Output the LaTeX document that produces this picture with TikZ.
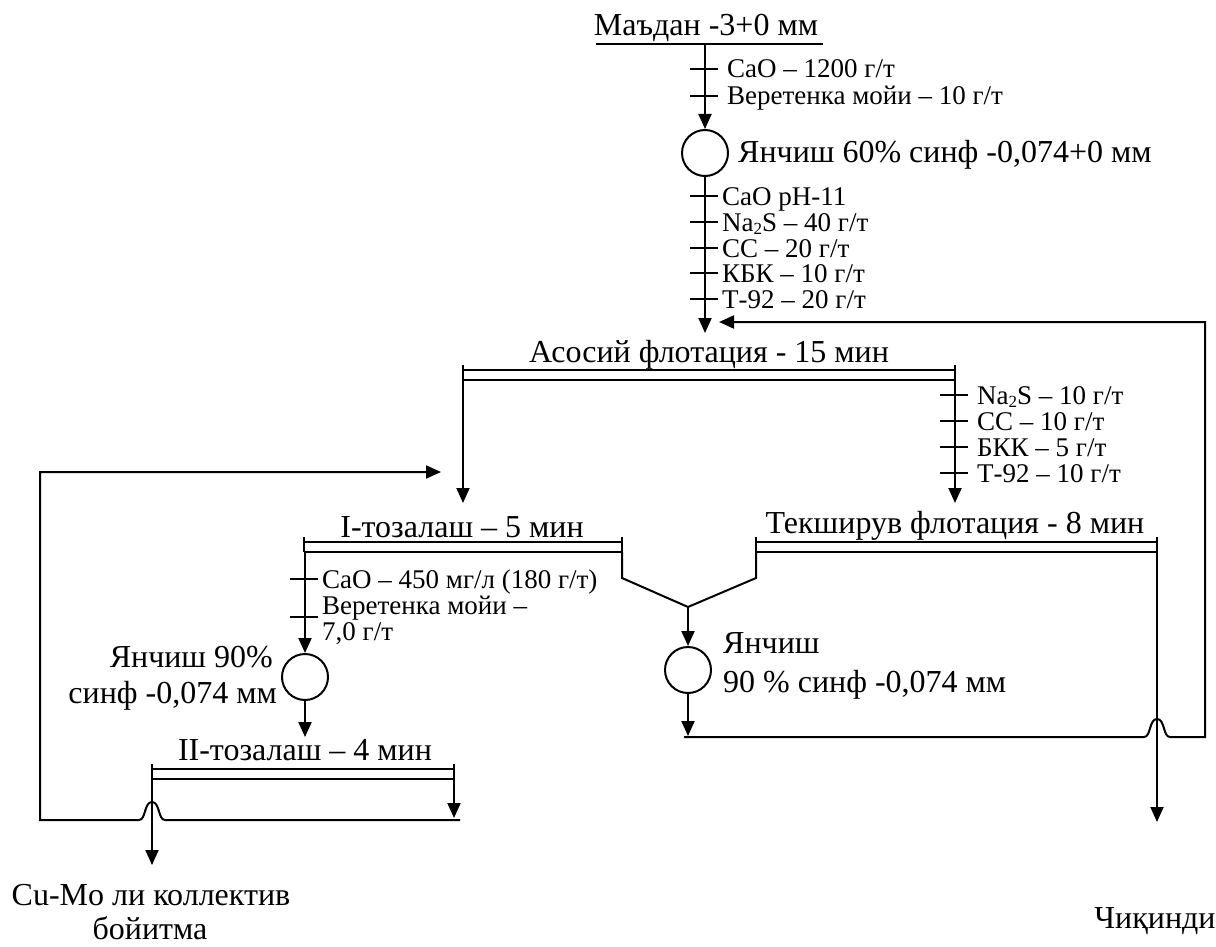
\documentclass[tikz,border=0pt]{standalone}
\usepackage{fontspec}
\setmainfont{Liberation Serif}
\usetikzlibrary{arrows.meta}
\newcommand\flbar[4]{% name, x1, x2, Y
  \coordinate (#1L) at (#2,#4+10);
  \coordinate (#1R) at (#3,#4+10);
  \draw[ln] (#2,#4) -- (#3,#4);
  \draw[ln] (#2,#4+10) -- (#3,#4+10);
  \draw[ln] (#2,#4-5) -- (#1L);
  \draw[ln] (#3,#4-5) -- (#1R);}
\newcommand\rtick[2]{\draw[ln] (#1-15,#2) -- (#1+13,#2);}
\newcommand\sbtwo{\raisebox{-0.28ex}{\fontsize{17}{17}\selectfont 2}}
\begin{document}
\begin{tikzpicture}[x=1pt,y=-1pt,
  ln/.style={line width=2pt},
  flow/.style={line width=2pt,-{Triangle[length=15pt,width=13pt]}},
  big/.style={inner sep=0pt,font=\fontsize{32}{36}\selectfont},
  small/.style={inner sep=0pt,text height=19pt,text depth=3pt,font=\fontsize{27}{30}\selectfont},
  mill/.style={draw,circle,line width=2pt,minimum size=46pt,inner sep=0pt}]
\useasboundingbox (0,0) rectangle (1216,947);

% ---- feed
\node[big,anchor=base] (ore) at (706,36) {Маъдан -3+0 мм};
\coordinate (oreL) at (596,44);
\coordinate (oreR) at (823,44);
\coordinate (oreO) at (705,44);
\draw[ln] (oreL) -- (oreR);
\node[mill] (m1) at (705,153) {};
\draw[flow] (oreO) -- (m1.north);
\rtick{705}{69}
\rtick{705}{96}
\node[small,anchor=base west] (ra1) at (727,78) {CaO – 1200 г/т};
\node[small,anchor=base west] (ra2) at (727,105) {Веретенка мойи – 10 г/т};
\node[big,anchor=base west] (m1t) at (738,163) {Янчиш 60\% синф -0,074+0 мм};

% ---- main flotation
\coordinate (mainIn) at (705,333);
\draw[flow] (m1.south) -- (mainIn);
\foreach \yy in {196,222,248,273,299} {\rtick{705}{\yy}}
\node[small,anchor=base west] (rb1) at (722,205) {CaO pH-11};
\node[small,anchor=base west] (rb2) at (722,231) {Na\sbtwo S – 40 г/т};
\node[small,anchor=base west] (rb3) at (722,257) {CC – 20 г/т};
\node[small,anchor=base west] (rb4) at (722,282) {КБК – 10 г/т};
\node[small,anchor=base west] (rb5) at (722,308) {Т-92 – 20 г/т};

\node[big,anchor=base] (mainT) at (709,362) {Асосий флотация - 15 мин};
\flbar{A}{463}{955}{370}

% ---- scavenger reagents
\coordinate (scavIn) at (955,503);
\draw[flow] (AR) -- (scavIn);
\foreach \yy in {395,421,447,473} {\rtick{955}{\yy}}
\node[small,anchor=base west] (rc1) at (977,404) {Na\sbtwo S – 10 г/т};
\node[small,anchor=base west] (rc2) at (977,430) {CC – 10 г/т};
\node[small,anchor=base west] (rc3) at (977,456) {БКК – 5 г/т};
\node[small,anchor=base west] (rc4) at (977,482) {Т-92 – 10 г/т};

% ---- first cleaning
\coordinate (cl1In) at (463,503);
\draw[flow] (AL) -- (cl1In);
\node[big,anchor=base] (cl1T) at (462,537) {I-тозалаш – 5 мин};
\flbar{B}{304}{622}{542}

% ---- scavenger flotation
\node[big,anchor=base] (scT) at (955,533) {Текширув флотация - 8 мин};
\flbar{C}{756}{1157}{542}

% ---- regrind of first cleaner concentrate
\node[mill] (m2) at (305,677) {};
\coordinate (BLx) at (305,552);
\draw[flow] (BLx) -- (m2.north);
\rtick{305}{579}
\rtick{305}{617}
\node[small,anchor=base west] (rd1) at (322,588) {CaO – 450 мг/л (180 г/т)};
\node[small,anchor=base west] (rd2) at (322,614) {Веретенка мойи –};
\node[small,anchor=base west] (rd3) at (322,640) {7,0 г/т};
\node[big,anchor=base east] (m2t1) at (273,667) {Янчиш 90\%};
\node[big,anchor=base east] (m2t2) at (277,703) {синф -0,074 мм};
\coordinate (cl2In) at (305,737);
\draw[flow] (m2.south) -- (cl2In);

% ---- second cleaning
\node[big,anchor=base] (cl2T) at (305,760) {II-тозалаш – 4 мин};
\flbar{D}{152}{454}{769}

% ---- V junction and middlings regrind
\coordinate (v1) at (622,578);
\coordinate (v2) at (688,607);
\coordinate (v3) at (756,578);
\draw[ln,line join=miter] (BR) -- (v1) -- (v2) -- (v3) -- (CL);
\node[mill] (m3) at (688,670) {};
\draw[flow] (v2) -- (m3.north);
\node[big,anchor=base west] (m3t1) at (723,653) {Янчиш};
\node[big,anchor=base west] (m3t2) at (723,692) {90 \% синф -0,074 мм};
\coordinate (m3Out) at (688,736);
\draw[flow] (m3.south) -- (m3Out);

% ---- recycle to main flotation (with hump over tailings line)
\coordinate (r0) at (684,737);
\coordinate (h1) at (1144,737);
\coordinate (h2) at (1170,737);
\coordinate (rc) at (1205,737);
\coordinate (rt) at (1205,322);
\coordinate (rIn) at (719,322);
\draw[ln,-{Triangle[length=15pt,width=13pt]},line join=miter]
  (r0) -- (h1) .. controls (1151,737) and (1149,719) .. (1157,719)
  .. controls (1165,719) and (1163,737) .. (h2) -- (rc) -- (rt) -- (rIn);

% ---- tailings
\coordinate (tail) at (1157,822);
\draw[flow] (CR) -- (tail);
\node[big,anchor=base] (tailT) at (1155,928) {Чиқинди};

% ---- second cleaner tails recycle to first cleaning
\coordinate (dOut) at (454,818);
\draw[flow] (DR) -- (dOut);
\coordinate (s0) at (460,820);
\coordinate (g1) at (165,820);
\coordinate (g2) at (139,820);
\coordinate (sc) at (40,820);
\coordinate (st) at (40,472);
\coordinate (sIn) at (441,472);
\draw[ln,-{Triangle[length=15pt,width=13pt]},line join=miter]
  (s0) -- (g1) .. controls (158,820) and (160,802) .. (152,802)
  .. controls (144,802) and (146,820) .. (g2) -- (sc) -- (st) -- (sIn);

% ---- final concentrate
\coordinate (conc) at (152,865);
\draw[flow] (DL) -- (conc);
\node[big,anchor=base] (concT1) at (151,905) {Cu-Mo ли коллектив};
\node[big,anchor=base] (concT2) at (150,939) {бойитма};
\end{tikzpicture}
\end{document}
